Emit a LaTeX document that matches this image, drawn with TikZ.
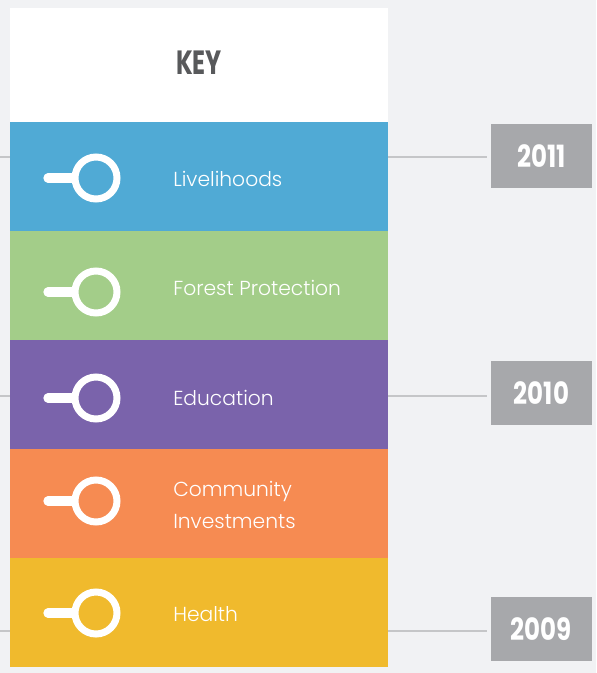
\documentclass[tikz,border=0pt]{standalone}
\usepackage{fontspec}
\usepackage{graphicx}
\setmainfont{Poppins}
\newfontfamily\lightfont{Poppins Light}
\usetikzlibrary{positioning}

\definecolor{bg}{HTML}{F1F2F4}
\definecolor{keygray}{HTML}{58595B}
\definecolor{yeargray}{HTML}{A7A8AB}
\definecolor{stubgray}{HTML}{C5C6C8}
\definecolor{cblue}{HTML}{50AAD5}
\definecolor{cgreen}{HTML}{A3CD89}
\definecolor{cpurple}{HTML}{7A63AB}
\definecolor{corange}{HTML}{F68B52}
\definecolor{cyellow}{HTML}{F0BA2D}

\tikzset{
  band/.style={minimum width=283.5pt,minimum height=82pt,inner sep=0pt,outer sep=0pt},
  keybox/.style={fill=white,minimum width=283.5pt,minimum height=85.5pt,inner sep=0pt,
    text=keygray,font=\bfseries\fontsize{24}{26}\selectfont},
  lbl/.style={text=white,inner sep=0pt,align=left,font=\lightfont\fontsize{15.2}{23.5}\selectfont},
  yearbox/.style={fill=yeargray,text=white,minimum width=75.75pt,minimum height=48pt,
    inner sep=0pt,font=\bfseries\fontsize{23}{25}\selectfont},
  stub/.style={draw=stubgray,line width=1pt},
  handle/.style={white,line width=7pt,line cap=round},
  ring/.style={white,line width=5.25pt}
}

\begin{document}
\begin{tikzpicture}[x=0.75pt,y=-0.75pt]
	\useasboundingbox[fill=bg] (0,0) rectangle (596,673);
	% year boxes and their lines
	\node[yearbox] (y2011) at (541.5,156) {\scalebox{0.8}[1]{2011}};
	\node[yearbox] (y2010) at (541.5,393) {\scalebox{0.8}[1]{2010}};
	\node[yearbox] (y2009) at (541.5,629) {\scalebox{0.8}[1]{2009}};
	\coordinate (s2011) at (0,157);
	\coordinate (s2010) at (0,396);
	\coordinate (s2009) at (0,631);
	\draw[stub,shorten >=3pt] (s2011) -- (s2011 -| y2011.west);
	\draw[stub,shorten >=3pt] (s2010) -- (s2010 -| y2010.west);
	\draw[stub,shorten >=3pt] (s2009) -- (s2009 -| y2009.west);
	% key column
	\node[keybox] (key) at (199,65) {\raisebox{3.5pt}{\scalebox{0.75}[1.05]{KEY}}};
	\node[band,fill=cblue] (live) at (199,176.5) {};
	\node[band,fill=cgreen] (forest) at (199,285.5) {};
	\node[band,fill=cpurple] (edu) at (199,394.5) {};
	\node[band,fill=corange] (comm) at (199,503.5) {};
	\node[band,fill=cyellow] (health) at (199,612.5) {};
	\foreach \y in {178,292,398,501,613}{
		\draw[handle] (48,\y) -- (72,\y);
		\draw[ring] (96,\y) circle[radius=21];
	}
	\node[lbl,anchor=base west] (tlive) at (173,187) {Livelihoods};
	\node[lbl,anchor=base west] (tforest) at (173,295) {Forest Protection};
	\node[lbl,anchor=base west] (tedu) at (173,405) {Education};
	\node[lbl,anchor=west] (tcomm) at (173,505) {Community\\Investments};
	\node[lbl,anchor=base west] (thealth) at (173,621) {Health};
\end{tikzpicture}
\end{document}
